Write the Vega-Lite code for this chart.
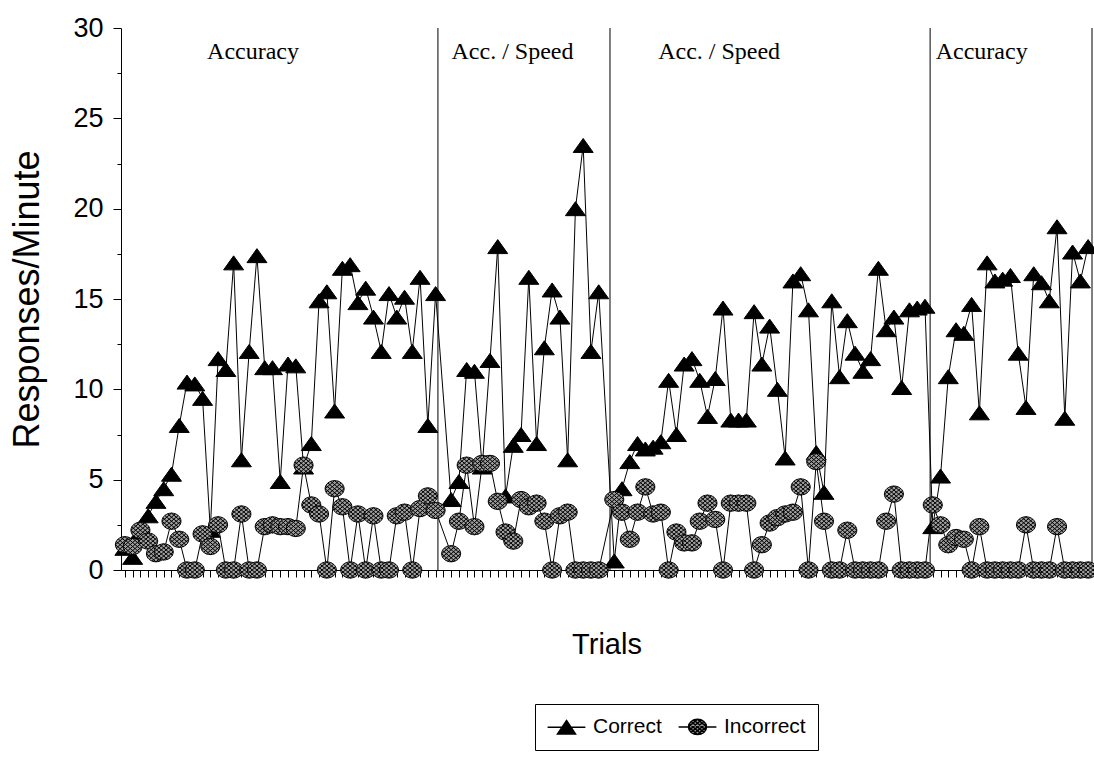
{
  "$schema": "https://vega.github.io/schema/vega-lite/v6.json",
  "width": 971,
  "height": 542,
  "autosize": "none",
  "padding": {"left": 121, "top": 28, "right": 2, "bottom": 187},
  "background": "white",
  "config": {
    "view": {"stroke": null},
    "font": "Liberation Sans",
    "axis": {"domainColor": "black", "tickColor": "black", "labelColor": "black", "titleColor": "black", "titleFontWeight": "normal", "grid": false}
  },
  "datasets": {
    "trials": [
      {"trial": 1, "Correct": 1.2, "Incorrect": 1.4},
      {"trial": 2, "Correct": 0.7, "Incorrect": 1.3},
      {"trial": 3, "Correct": 2.1, "Incorrect": 2.2},
      {"trial": 4, "Correct": 3.0, "Incorrect": 1.6},
      {"trial": 5, "Correct": 3.8, "Incorrect": 0.9},
      {"trial": 6, "Correct": 4.5, "Incorrect": 1.0},
      {"trial": 7, "Correct": 5.3, "Incorrect": 2.7},
      {"trial": 8, "Correct": 8.0, "Incorrect": 1.7},
      {"trial": 9, "Correct": 10.4, "Incorrect": 0},
      {"trial": 10, "Correct": 10.3, "Incorrect": 0},
      {"trial": 11, "Correct": 9.5, "Incorrect": 2.0},
      {"trial": 12, "Correct": 2.2, "Incorrect": 1.3},
      {"trial": 13, "Correct": 11.7, "Incorrect": 2.5},
      {"trial": 14, "Correct": 11.1, "Incorrect": 0},
      {"trial": 15, "Correct": 17.0, "Incorrect": 0},
      {"trial": 16, "Correct": 6.1, "Incorrect": 3.1},
      {"trial": 17, "Correct": 12.1, "Incorrect": 0},
      {"trial": 18, "Correct": 17.4, "Incorrect": 0},
      {"trial": 19, "Correct": 11.2, "Incorrect": 2.4},
      {"trial": 20, "Correct": 11.2, "Incorrect": 2.5},
      {"trial": 21, "Correct": 4.9, "Incorrect": 2.4},
      {"trial": 22, "Correct": 11.4, "Incorrect": 2.4},
      {"trial": 23, "Correct": 11.3, "Incorrect": 2.3},
      {"trial": 24, "Correct": 5.7, "Incorrect": 5.8},
      {"trial": 25, "Correct": 7.0, "Incorrect": 3.6},
      {"trial": 26, "Correct": 14.9, "Incorrect": 3.1},
      {"trial": 27, "Correct": 15.4, "Incorrect": 0},
      {"trial": 28, "Correct": 8.8, "Incorrect": 4.5},
      {"trial": 29, "Correct": 16.7, "Incorrect": 3.5},
      {"trial": 30, "Correct": 16.9, "Incorrect": 0},
      {"trial": 31, "Correct": 14.8, "Incorrect": 3.1},
      {"trial": 32, "Correct": 15.6, "Incorrect": 0},
      {"trial": 33, "Correct": 14.0, "Incorrect": 3.0},
      {"trial": 34, "Correct": 12.1, "Incorrect": 0},
      {"trial": 35, "Correct": 15.3, "Incorrect": 0},
      {"trial": 36, "Correct": 14.0, "Incorrect": 3.0},
      {"trial": 37, "Correct": 15.1, "Incorrect": 3.2},
      {"trial": 38, "Correct": 12.1, "Incorrect": 0},
      {"trial": 39, "Correct": 16.2, "Incorrect": 3.4},
      {"trial": 40, "Correct": 8.0, "Incorrect": 4.1},
      {"trial": 41, "Correct": 15.3, "Incorrect": 3.3},
      {"trial": 43, "Correct": 3.9, "Incorrect": 0.9},
      {"trial": 44, "Correct": 4.9, "Incorrect": 2.7},
      {"trial": 45, "Correct": 11.1, "Incorrect": 5.8},
      {"trial": 46, "Correct": 11.0, "Incorrect": 2.4},
      {"trial": 47, "Correct": 5.7, "Incorrect": 5.9},
      {"trial": 48, "Correct": 11.6, "Incorrect": 5.9},
      {"trial": 49, "Correct": 17.9, "Incorrect": 3.8},
      {"trial": 50, "Correct": 4.1, "Incorrect": 2.1},
      {"trial": 51, "Correct": 6.9, "Incorrect": 1.6},
      {"trial": 52, "Correct": 7.5, "Incorrect": 3.9},
      {"trial": 53, "Correct": 16.2, "Incorrect": 3.5},
      {"trial": 54, "Correct": 7.0, "Incorrect": 3.7},
      {"trial": 55, "Correct": 12.3, "Incorrect": 2.7},
      {"trial": 56, "Correct": 15.5, "Incorrect": 0},
      {"trial": 57, "Correct": 14.0, "Incorrect": 3.0},
      {"trial": 58, "Correct": 6.1, "Incorrect": 3.2},
      {"trial": 59, "Correct": 20.0, "Incorrect": 0},
      {"trial": 60, "Correct": 23.5, "Incorrect": 0},
      {"trial": 61, "Correct": 12.1, "Incorrect": 0},
      {"trial": 62, "Correct": 15.4, "Incorrect": 0},
      {"trial": 64, "Correct": 0.5, "Incorrect": 3.9},
      {"trial": 65, "Correct": 4.5, "Incorrect": 3.2},
      {"trial": 66, "Correct": 6.0, "Incorrect": 1.7},
      {"trial": 67, "Correct": 7.0, "Incorrect": 3.2},
      {"trial": 68, "Correct": 6.7, "Incorrect": 4.6},
      {"trial": 69, "Correct": 6.8, "Incorrect": 3.1},
      {"trial": 70, "Correct": 7.1, "Incorrect": 3.2},
      {"trial": 71, "Correct": 10.5, "Incorrect": 0},
      {"trial": 72, "Correct": 7.5, "Incorrect": 2.1},
      {"trial": 73, "Correct": 11.4, "Incorrect": 1.5},
      {"trial": 74, "Correct": 11.7, "Incorrect": 1.5},
      {"trial": 75, "Correct": 10.5, "Incorrect": 2.7},
      {"trial": 76, "Correct": 8.5, "Incorrect": 3.7},
      {"trial": 77, "Correct": 10.6, "Incorrect": 2.8},
      {"trial": 78, "Correct": 14.5, "Incorrect": 0},
      {"trial": 79, "Correct": 8.3, "Incorrect": 3.7},
      {"trial": 80, "Correct": 8.3, "Incorrect": 3.7},
      {"trial": 81, "Correct": 8.3, "Incorrect": 3.7},
      {"trial": 82, "Correct": 14.3, "Incorrect": 0},
      {"trial": 83, "Correct": 11.4, "Incorrect": 1.4},
      {"trial": 84, "Correct": 13.5, "Incorrect": 2.6},
      {"trial": 85, "Correct": 10.0, "Incorrect": 2.9},
      {"trial": 86, "Correct": 6.2, "Incorrect": 3.1},
      {"trial": 87, "Correct": 16.0, "Incorrect": 3.2},
      {"trial": 88, "Correct": 16.4, "Incorrect": 4.6},
      {"trial": 89, "Correct": 14.4, "Incorrect": 0},
      {"trial": 90, "Correct": 6.5, "Incorrect": 6.0},
      {"trial": 91, "Correct": 4.3, "Incorrect": 2.7},
      {"trial": 92, "Correct": 14.9, "Incorrect": 0},
      {"trial": 93, "Correct": 10.7, "Incorrect": 0},
      {"trial": 94, "Correct": 13.8, "Incorrect": 2.2},
      {"trial": 95, "Correct": 12.0, "Incorrect": 0},
      {"trial": 96, "Correct": 11.0, "Incorrect": 0},
      {"trial": 97, "Correct": 11.7, "Incorrect": 0},
      {"trial": 98, "Correct": 16.7, "Incorrect": 0},
      {"trial": 99, "Correct": 13.3, "Incorrect": 2.7},
      {"trial": 100, "Correct": 14.0, "Incorrect": 4.2},
      {"trial": 101, "Correct": 10.1, "Incorrect": 0},
      {"trial": 102, "Correct": 14.4, "Incorrect": 0},
      {"trial": 103, "Correct": 14.5, "Incorrect": 0},
      {"trial": 104, "Correct": 14.6, "Incorrect": 0},
      {"trial": 105, "Correct": 2.4, "Incorrect": 3.6},
      {"trial": 106, "Correct": 5.2, "Incorrect": 2.5},
      {"trial": 107, "Correct": 10.7, "Incorrect": 1.4},
      {"trial": 108, "Correct": 13.3, "Incorrect": 1.8},
      {"trial": 109, "Correct": 13.1, "Incorrect": 1.7},
      {"trial": 110, "Correct": 14.7, "Incorrect": 0},
      {"trial": 111, "Correct": 8.7, "Incorrect": 2.4},
      {"trial": 112, "Correct": 17.0, "Incorrect": 0},
      {"trial": 113, "Correct": 16.0, "Incorrect": 0},
      {"trial": 114, "Correct": 16.1, "Incorrect": 0},
      {"trial": 115, "Correct": 16.3, "Incorrect": 0},
      {"trial": 116, "Correct": 12.0, "Incorrect": 0},
      {"trial": 117, "Correct": 9.0, "Incorrect": 2.5},
      {"trial": 118, "Correct": 16.4, "Incorrect": 0},
      {"trial": 119, "Correct": 15.9, "Incorrect": 0},
      {"trial": 120, "Correct": 14.9, "Incorrect": 0},
      {"trial": 121, "Correct": 19.0, "Incorrect": 2.4},
      {"trial": 122, "Correct": 8.4, "Incorrect": 0},
      {"trial": 123, "Correct": 17.6, "Incorrect": 0},
      {"trial": 124, "Correct": 16.0, "Incorrect": 0},
      {"trial": 125, "Correct": 17.9, "Incorrect": 0}
    ],
    "phases": [
      {"phase": "Accuracy", "labelTrial": 17.5, "endTrial": 41.3},
      {"phase": "Acc. / Speed", "labelTrial": 50.9, "endTrial": 63.45},
      {"phase": "Acc. / Speed", "labelTrial": 77.5, "endTrial": 104.66},
      {"phase": "Accuracy", "labelTrial": 111.3, "endTrial": 125.5}
    ]
  },
  "data": {"name": "trials"},
  "layer": [
    {
      "mark": {"type": "line", "color": "black", "strokeWidth": 1},
      "encoding": {
        "x": {
          "field": "trial", "type": "quantitative", "title": "Trials",
          "scale": {"domain": [0.5, 125.5], "nice": false, "zero": false},
          "axis": {"title": "Trials", "titleFontSize": 29, "titlePadding": 53, "labels": false, "tickCount": 125, "tickSize": 7}
        },
        "y": {
          "field": "Correct", "type": "quantitative", "title": "Responses/Minute",
          "scale": {"domain": [0, 30], "nice": false},
          "axis": {
            "title": "Responses/Minute", "titleFontSize": 36, "titlePadding": 26,
            "values": [0, 2.5, 5, 7.5, 10, 12.5, 15, 17.5, 20, 22.5, 25, 27.5, 30],
            "labelExpr": "datum.value % 5 === 0 ? format(datum.value, 'd') : ''",
            "labelFontSize": 27, "labelPadding": 10,
            "tickSize": {"condition": {"test": "datum.value % 5 === 0", "value": 8}, "value": 4}
          }
        }
      }
    },
    {
      "data": {"name": "phases"},
      "mark": {"type": "rule", "color": "black", "strokeWidth": 1},
      "encoding": {
        "x": {"field": "endTrial", "type": "quantitative", "title": "Trials"},
        "y": {"datum": 0, "type": "quantitative", "title": "Responses/Minute"},
        "y2": {"datum": 30}
      }
    },
    {
      "data": {"name": "phases"},
      "mark": {"type": "text", "font": "Liberation Serif", "fontSize": 24, "color": "black", "align": "center", "baseline": "middle"},
      "encoding": {
        "x": {"field": "labelTrial", "type": "quantitative", "title": "Trials"},
        "y": {"datum": 28.67, "type": "quantitative", "title": "Responses/Minute"},
        "text": {"field": "phase"}
      }
    },
    {
      "mark": {"type": "point", "filled": true, "shape": "M0,-0.7L1,0.7L-1,0.7Z", "fill": "black", "stroke": "black", "strokeWidth": 1, "size": 400, "opacity": 1},
      "encoding": {
        "x": {"field": "trial", "type": "quantitative", "title": "Trials"},
        "y": {"field": "Correct", "type": "quantitative", "title": "Responses/Minute"}
      }
    },
    {
      "mark": {"type": "line", "color": "black", "strokeWidth": 1},
      "encoding": {
        "x": {"field": "trial", "type": "quantitative", "title": "Trials"},
        "y": {"field": "Incorrect", "type": "quantitative", "title": "Responses/Minute"}
      }
    },
    {
      "mark": {"type": "point", "filled": true, "shape": "M1,0A1,0.85 0 1,1 -1,0A1,0.85 0 1,1 1,0ZM0.707,0.601L-0.707,-0.601M0.911,0.349L-0.411,-0.774M0.411,0.774L-0.911,-0.349M1,0L0,-0.85M0,0.85L-1,0M-0.707,0.601L0.707,-0.601M-0.911,0.349L0.411,-0.774M-0.411,0.774L0.911,-0.349M-1,0L0,-0.85M0,0.85L1,0", "fill": "#a0a0a0", "stroke": "black", "strokeWidth": 1, "size": 361, "opacity": 1},
      "encoding": {
        "x": {"field": "trial", "type": "quantitative", "title": "Trials"},
        "y": {"field": "Incorrect", "type": "quantitative", "title": "Responses/Minute"}
      }
    },
    {
      "transform": [
        {"fold": ["Correct", "Incorrect"], "as": ["series", "rate"]},
        {"filter": "false"}
      ],
      "mark": {"type": "point", "filled": true, "stroke": "black", "strokeWidth": 1.1, "opacity": 1},
      "encoding": {
        "x": {"field": "trial", "type": "quantitative", "title": "Trials"},
        "y": {"field": "rate", "type": "quantitative", "title": "Responses/Minute"},
        "shape": {
          "field": "series", "type": "nominal",
          "scale": {
            "domain": ["Correct", "Incorrect"],
            "range": [
              "M-2.1,0H2.1M0,-0.75L1,0.75L-1,0.75Z",
              "M-2.1,0H-1M1,0H2.1M1,0A1,0.85 0 1,1 -1,0A1,0.85 0 1,1 1,0ZM0.707,0.601L-0.707,-0.601M0.911,0.349L-0.411,-0.774M0.411,0.774L-0.911,-0.349M1,0L0,-0.85M0,0.85L-1,0M-0.707,0.601L0.707,-0.601M-0.911,0.349L0.411,-0.774M-0.411,0.774L0.911,-0.349M-1,0L0,-0.85M0,0.85L1,0"
            ]
          },
          "legend": {
            "title": null, "orient": "none", "legendX": 414, "legendY": 676, "direction": "horizontal",
            "labelFontSize": 21, "labelFont": "Liberation Sans", "labelColor": "black",
            "symbolSize": 324, "symbolOffset": 9, "labelOffset": 16,
            "padding": 12, "columnPadding": 13, "strokeColor": "black", "fillColor": "white"
          }
        },
        "fill": {
          "field": "series", "type": "nominal",
          "scale": {"domain": ["Correct", "Incorrect"], "range": ["black", "#a0a0a0"]},
          "legend": {
            "title": null, "orient": "none", "legendX": 414, "legendY": 676, "direction": "horizontal",
            "labelFontSize": 21, "labelFont": "Liberation Sans", "labelColor": "black",
            "symbolSize": 324, "symbolOffset": 9, "labelOffset": 16,
            "padding": 12, "columnPadding": 13, "strokeColor": "black", "fillColor": "white"
          }
        }
      }
    }
  ]
}
